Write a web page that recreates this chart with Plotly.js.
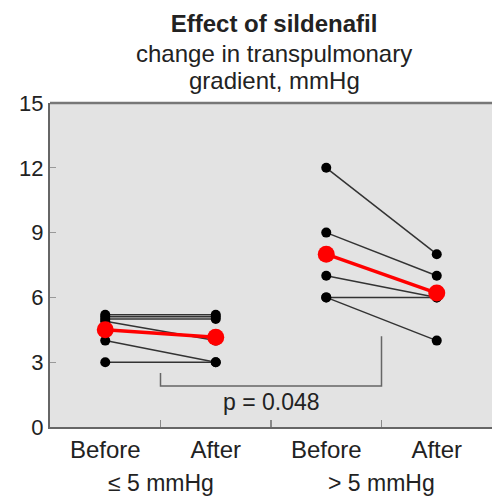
<!DOCTYPE html>
<html>
<head>
<meta charset="utf-8">
<script src="https://cdn.plot.ly/plotly-3.0.1.min.js"></script>
<style>html,body{margin:0;padding:0;background:#fff;}#chart{width:492px;height:498px;}</style>
</head>
<body>
<div id="chart"></div>
<script>
// ---- data ----
const titleText = "Effect of sildenafil";
const subtitleLines = ["change in transpulmonary", "gradient, mmHg"];
const tickLabels = ["Before", "After", "Before", "After"];
const tickPositions = [1, 2, 3, 4];
const groupLabels = ["\u2264 5 mmHg", "> 5 mmHg"];
const groupCenters = [1.5, 3.5];

const lowBefore = [5.2, 5.1, 5.0, 4.9, 4.0, 3.0];
const lowAfter  = [5.2, 5.1, 5.0, 4.0, 3.0, 3.0];
const highBefore = [12, 9, 7, 6, 6];
const highAfter  = [8, 7, 6, 6, 4];
const lowMean  = [4.5, 4.15];
const highMean = [8.0, 6.2];

const bracketX = [1.5, 3.5];
const bracketLeftTop = 2.5;
const bracketRightTop = 4.2;
const bracketBottom = 1.9;
const pLabel = "p = 0.048";
const pLabelY = 1.15;

const yTicks = [0, 3, 6, 9, 12, 15];

// ---- build traces ----
const traces = [];
function addPatients(before, after, xPair) {
  for (let i = 0; i < before.length; i++) {
    traces.push({
      x: xPair, y: [before[i], after[i]],
      type: "scatter", mode: "lines+markers",
      line: {color: "#333333", width: 1.5},
      marker: {color: "#000000", size: 10},
      showlegend: false, hoverinfo: "skip"
    });
  }
}
addPatients(lowBefore, lowAfter, [tickPositions[0], tickPositions[1]]);
addPatients(highBefore, highAfter, [tickPositions[2], tickPositions[3]]);
[[lowMean, [tickPositions[0], tickPositions[1]]], [highMean, [tickPositions[2], tickPositions[3]]]].forEach(([m, xp]) => {
  traces.push({
    x: xp, y: m, type: "scatter", mode: "lines+markers",
    line: {color: "#ff0000", width: 3.5},
    marker: {color: "#ff0000", size: 17},
    showlegend: false, hoverinfo: "skip"
  });
});
// invisible trace on xaxis2 so boundary ticks are drawn
traces.push({x: [tickPositions[0]], y: [0], xaxis: "x2", type: "scatter", mode: "markers",
  marker: {opacity: 0}, showlegend: false, hoverinfo: "skip"});

const fontFam = "Liberation Sans, Arial, sans-serif";
const txt = "#222222";
const layout = {
  width: 492, height: 498,
  margin: {l: 50, r: 0, t: 103, b: 71},
  paper_bgcolor: "#ffffff",
  plot_bgcolor: "#e3e3e3",
  font: {family: fontFam, color: txt, size: 24},
  title: {
    text: "<b>" + titleText + "</b>",
    font: {family: fontFam, size: 24, color: txt},
    x: 0.557, xanchor: "center", yref: "container", y: 0.952, yanchor: "middle"
  },
  xaxis: {
    range: [0.5, 4.5], tickvals: tickPositions, ticktext: tickLabels,
    ticks: "", showgrid: false, zeroline: false,
    showline: true, linecolor: "#666666", linewidth: 2,
    tickfont: {size: 24, color: txt}, fixedrange: true
  },
  xaxis2: {
    overlaying: "x", matches: "x", range: [0.5, 4.5],
    tickvals: [1.5, 2.5, 3.5], ticks: "inside", ticklen: 7, tickcolor: "#888888", tickwidth: 1.2,
    showticklabels: false, showgrid: false, zeroline: false, showline: false
  },
  yaxis: {
    range: [0, 15], tickvals: yTicks, ticks: "inside", ticklen: 6, tickcolor: "#999999", tickwidth: 1,
    showgrid: false, zeroline: false, showline: true, linecolor: "#666666", linewidth: 2,
    tickfont: {size: 22, color: txt}, fixedrange: true
  },
  shapes: [
    {type: "line", xref: "paper", yref: "paper", x0: 0, x1: 1, y0: 1, y1: 1,
     line: {color: "#777777", width: 2.5}},
    {type: "path", xref: "x", yref: "y",
     path: "M " + bracketX[0] + "," + bracketLeftTop + " L " + bracketX[0] + "," + bracketBottom +
           " L " + bracketX[1] + "," + bracketBottom + " L " + bracketX[1] + "," + bracketRightTop,
     line: {color: "#666666", width: 1.5}}
  ],
  annotations: [
    {x: 0.507, y: 1.1525, xref: "paper", yref: "paper", text: subtitleLines[0],
     showarrow: false, font: {size: 24, color: txt}, xanchor: "center", yanchor: "middle"},
    {x: 0.507, y: 1.069, xref: "paper", yref: "paper", text: subtitleLines[1],
     showarrow: false, font: {size: 24, color: txt}, xanchor: "center", yanchor: "middle"},
    {x: (bracketX[0] + bracketX[1]) / 2, y: pLabelY, xref: "x", yref: "y", text: pLabel,
     showarrow: false, font: {size: 23, color: txt}, xanchor: "center", yanchor: "middle"},
    {x: groupCenters[0], y: -0.172, xref: "x", yref: "paper", text: groupLabels[0],
     showarrow: false, font: {size: 23, color: txt}, xanchor: "center", yanchor: "middle"},
    {x: groupCenters[1], y: -0.172, xref: "x", yref: "paper", text: groupLabels[1],
     showarrow: false, font: {size: 23, color: txt}, xanchor: "center", yanchor: "middle"}
  ]
};

Plotly.newPlot("chart", traces, layout, {displayModeBar: false, staticPlot: true});
</script>
</body>
</html>
